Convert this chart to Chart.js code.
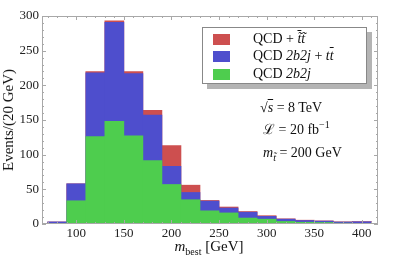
<!DOCTYPE html>
<html>
<head>
<meta charset="utf-8">
<script src="https://cdn.jsdelivr.net/npm/chart.js@4"></script>
<style>
    body { margin: 0; background: #fff; }
    #wrap { position: relative; width: 395px; height: 259px; font-family: "Liberation Serif", "Times New Roman", serif; color: #111; }
    .txt { position: absolute; white-space: nowrap; font-size: 14px; line-height: 16px; }
    .legend { position: absolute; left: 202px; top: 27px; width: 163px; height: 55px; border: 1px solid #888; background: #fff; box-shadow: 5px 5px 0 #b4b4b4; }
    .swatch { position: absolute; left: 10px; width: 17px; height: 11px; }
    .ltext { position: absolute; left: 50px; font-size: 14px; line-height: 16px; white-space: nowrap; }
</style>
</head>
<body>
<div id="wrap">
    <canvas id="chart" width="395" height="259"></canvas>

    <div class="legend">
        <div class="swatch" style="top:6px;background:#cd4f4f"></div>
        <div class="ltext" style="top:3px">QCD + <i><span style="text-decoration:overline">t̃</span>t̃</i></div>
        <div class="swatch" style="top:23px;background:#4e4ecd"></div>
        <div class="ltext" style="top:20px">QCD <i>2b2j</i> + <i>t<span style="text-decoration:overline">t</span></i></div>
        <div class="swatch" style="top:41px;background:#4ecd4e"></div>
        <div class="ltext" style="top:38px">QCD <i>2b2j</i></div>
    </div>

    <div class="txt" style="left:260px;top:100px">√<i style="text-decoration:overline">s</i> = 8 TeV</div>
    <div class="txt" style="left:263px;top:117px">ℒ = 20 fb<sup style="font-size:10px">−1</sup></div>
    <div class="txt" style="left:263px;top:145px"><i>m</i><sub style="font-size:10px"><i>t̃</i></sub> = 200 GeV</div>

    <div class="txt" style="left:8px;top:120px;font-size:15px;transform:translate(-50%,-50%) rotate(-90deg)">Events/(20 GeV)</div>
    <div class="txt" style="left:209px;top:249px;font-size:15px;transform:translate(-50%,-50%)"><i>m</i><sub style="font-size:10px">best</sub> [GeV]</div>
</div>

<script>
// Bin centers (20 GeV bins from 70 to 410 GeV)
const binCenters = [80, 100, 120, 140, 160, 180, 200, 220, 240, 260, 280, 300, 320, 340, 360, 380, 400];

// Cumulative histograms
const stopTotal = [3, 58, 220, 293, 220, 164, 113, 56, 34, 24.5, 18, 12, 7.5, 5.5, 4.5, 3.2, 3.5];   // QCD + stop pair
const bkgTotal  = [3, 58, 218, 291, 217, 157, 83, 45.5, 33, 23, 17, 11, 7, 5, 4.2, 2.8, 3.2];      // QCD 2b2j + ttbar
const qcd2b2j   = [1, 33.5, 126, 148, 127, 91.5, 57, 35, 19, 16, 8.6, 7, 3.7, 2.5, 2.2, 1.2, 1];

const xTicks = [100, 150, 200, 250, 300, 350, 400];
const yTicks = [0, 50, 100, 150, 200, 250, 300];

const toPoints = values => values.map((y, i) => ({ x: binCenters[i], y }));

// Frame with inward ticks on all four sides
const framePlugin = {
    id: 'frame',
    afterDatasetsDraw(chart) {
        const { ctx, chartArea: a, scales: { x, y } } = chart;
        ctx.save();
        ctx.strokeStyle = '#a8a8a8';
        ctx.lineWidth = 1;
        ctx.strokeRect(a.left + 0.5, a.top + 0.5, a.right - a.left - 1, a.bottom - a.top - 1);

        ctx.beginPath();
        for (let v = 70; v <= 410; v += 10) {
            const px = Math.round(x.getPixelForValue(v)) + 0.5;
            const len = v % 50 === 0 ? 4 : 2;
            ctx.moveTo(px, a.bottom); ctx.lineTo(px, a.bottom - len);
            ctx.moveTo(px, a.top); ctx.lineTo(px, a.top + len);
        }
        for (let v = 0; v <= 300; v += 10) {
            const py = Math.round(y.getPixelForValue(v)) + 0.5;
            const len = v % 50 === 0 ? 4 : 2;
            ctx.moveTo(a.left, py); ctx.lineTo(a.left + len, py);
            ctx.moveTo(a.right, py); ctx.lineTo(a.right - len, py);
        }
        ctx.stroke();
        ctx.restore();
    }
};

const tickFont = { family: '"Liberation Serif", "Times New Roman", serif', size: 13 };

new Chart(document.getElementById('chart'), {
    type: 'bar',
    data: {
        datasets: [
            { label: 'QCD 2b2j', data: toPoints(qcd2b2j), backgroundColor: '#4ecd4e' },
            { label: 'QCD 2b2j + tt', data: toPoints(bkgTotal), backgroundColor: '#4e4ecd' },
            { label: 'QCD + stop', data: toPoints(stopTotal), backgroundColor: '#cd4f4f' }
        ]
    },
    options: {
        responsive: false,
        animation: false,
        devicePixelRatio: 1,
        grouped: false,
        barPercentage: 1,
        categoryPercentage: 1,
        borderWidth: 0,
        layout: { padding: { top: 16, right: 17, left: 0, bottom: 0 } },
        plugins: {
            legend: { display: false },
            tooltip: { enabled: false }
        },
        scales: {
            x: {
                type: 'linear',
                offset: false,
                min: 64,
                max: 417,
                grid: { display: false, drawTicks: false, offset: false },
                border: { display: false },
                afterBuildTicks: s => { s.ticks = xTicks.map(v => ({ value: v })); },
                afterFit: s => { s.height = 35; },
                ticks: { font: tickFont, color: '#222', padding: 2, maxRotation: 0 }
            },
            y: {
                min: 0,
                max: 300,
                grid: { display: false, drawTicks: false },
                border: { display: false },
                afterBuildTicks: s => { s.ticks = yTicks.map(v => ({ value: v })); },
                afterFit: s => { s.width = 42; },
                ticks: { font: tickFont, color: '#222', padding: 3 }
            }
        }
    },
    plugins: [framePlugin]
});
</script>
</body>
</html>
